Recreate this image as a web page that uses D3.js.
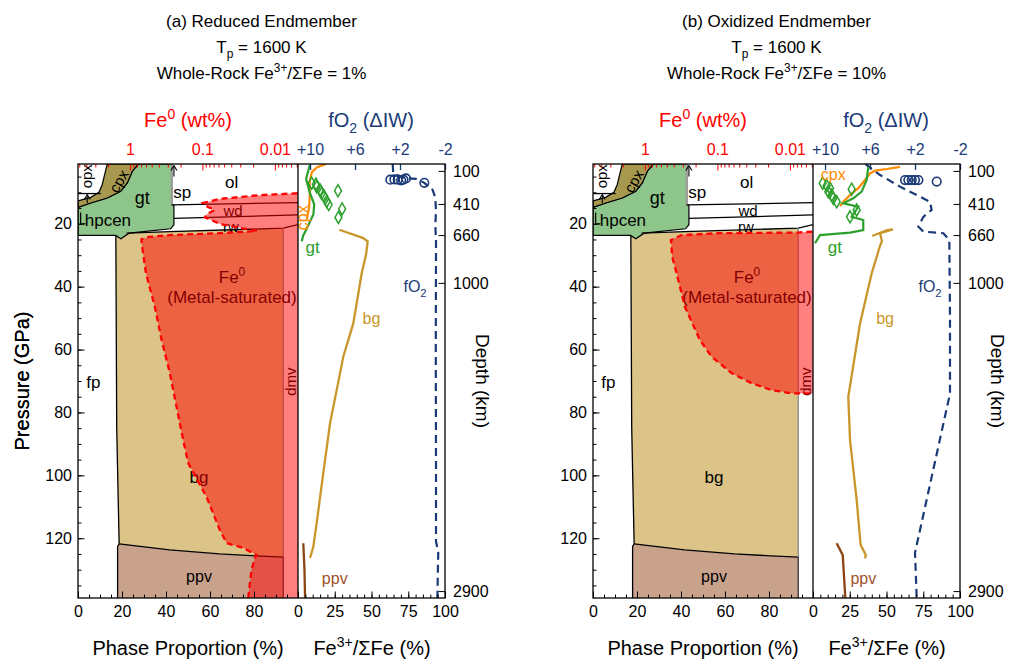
<!DOCTYPE html>
<html><head><meta charset="utf-8">
<script src="https://cdn.jsdelivr.net/npm/d3@7"></script>
<style>body{margin:0;background:#fff}</style>
</head><body>
<script>
// ---------------- DATA ----------------
const panelNames = ["(a) Reduced Endmember", "(b) Oxidized Endmember"];
const wholeRockFe3 = [1, 10];
const potentialTemp = 1600;

const pressureTicks = [20, 40, 60, 80, 100, 120];
const phaseTicks = [0, 20, 40, 60, 80];
const fe3Ticks = [0, 25, 50, 75, 100];
const fe0Ticks = [1, 0.1, 0.01];
const fo2Ticks = [10, 6, 2, -2];
const depthTicks = [100, 410, 660, 1000, 2900];
const depthPressure = [3.2, 13.7, 23.6, 38.8, 136.8];

const pressureDomain = [1, 139];
const fe0Domain = [5.2, 0.0048];
const fo2Domain = [11.07, -2];

// phase boundaries: [cumulative phase %, pressure GPa]
const opxLine = [[0, 10.4], [10.3, 10.4]];
const opxCpxBoundary = [[13.3, 1], [12.1, 4.4], [11, 7.6], [9.5, 10], [5.8, 11.6], [0, 12.7]];
const cpxGtBoundary = [[0, 14.8], [5.8, 13.4], [13.3, 11.8], [19.4, 9.7], [22.4, 7.0], [24.7, 3.3], [27, 1.4], [27.5, 1]];
const gtOuterBoundary = [[27.5, 1], [42.6, 1], [42.6, 13.9], [43.6, 14.2], [43.6, 20.3], [42.1, 21.6], [23.2, 23.0], [19.5, 24.8], [17.1, 23.7], [0, 23.7], [0, 14.8]];
const spLine = [[42.6, 1], [42.6, 13.9]];
const olWdBoundary = [[42.6, 14.0], [100, 13.3]];
const wdRwBoundary = [[43.6, 18.3], [100, 17.2]];
const rwBgBoundary = [[22.1, 23.0], [41.8, 22.5], [93.3, 21.4], [100, 20.3]];
const fpBoundary = [[17.2, 23.7], [17.6, 85], [18.7, 121.8], [18, 122.6], [18, 139]];
const bgPpvBoundary = [[18.7, 121.8], [41.6, 123.7], [64.3, 125], [80.9, 125.6], [93.3, 126]];
const dmvBoundaryBg = [[93.3, 21.4], [93.3, 126]];
const dmvBoundaryPpv = [[93.3, 126], [93.3, 139]];

// Fe0 (wt%) profiles vs pressure
const fe0ProfileA = [[0.0049, 10.3], [0.0161, 10.9], [0.0574, 12.1], [0.0984, 13.4], [0.084, 14.7], [0.0672, 15.6], [0.0867, 16.9], [0.0924, 17.9], [0.0574, 20.1], [0.0304, 21.3], [0.0177, 22.3], [0.0574, 23.0], [0.281, 23.6], [0.55, 24.2], [0.69, 24.9], [0.69, 26.1], [0.601, 35.7], [0.452, 46.5], [0.365, 57.0], [0.281, 67.5], [0.227, 78.3], [0.184, 88.8], [0.157, 96.1], [0.0875, 106.9], [0.0574, 117.4], [0.0464, 121.5], [0.0274, 123.1], [0.0179, 125.3], [0.0189, 126.3], [0.021, 130.1], [0.0221, 134.2], [0.0233, 139]];
const fe0ProfileB = [[0.0049, 22.5], [0.00776, 22.8], [0.0984, 23.0], [0.312, 23.6], [0.438, 25.2], [0.420, 30.5], [0.365, 35.8], [0.281, 46.4], [0.174, 57.0], [0.120, 62.3], [0.0637, 67.5], [0.0337, 70.7], [0.0179, 72.9], [0.00948, 73.9], [0.0049, 74.0]];

// Fe3+/SumFe (%) vs pressure
const bgFe3A = [[28.1, 21.9], [44, 24.5], [47.4, 25.6], [46.3, 29.8], [43.3, 35.8], [37.6, 51.7], [30.8, 62.3], [26.3, 72.9], [21.8, 83.4], [17.2, 99.3], [12.7, 115.2], [10.4, 122.7], [8.2, 126.3]];
const ppvFe3A = [[3.6, 121.6], [4.4, 130], [4.8, 139]];
const gtFe3A = [[8, 1.3], [5.5, 5.8], [8, 10], [11, 13.8], [10.5, 17], [6.5, 21], [3.5, 23.8], [2.5, 25.6]];
const cpxFe3A = [[19, 1], [13, 2], [9.5, 3.5], [8, 6.5], [8, 11], [7.5, 15], [6, 18.5]];
const gtGrainsA = [[9.3, 7.1], [12.2, 7.4], [12.7, 8.2], [15, 9.2], [16.1, 10.4], [17.9, 11.3], [19.5, 12.9], [20.9, 13.9], [27.2, 9.5], [30, 15.3], [27.5, 18.0]];
const fo2A = [[2.65, 1], [2.6, 4.0], [1.6, 5.5], [0.58, 5.7], [-0.16, 7.0], [-0.9, 9.2], [-1.14, 11.8], [-1.2, 16.0], [-1.14, 20.3], [-1.2, 25.5], [-1.18, 60], [-1.2, 100], [-1.2, 121], [-1.4, 124.5], [-1.32, 139]];
const fo2PointsA = [[2.86, 6.0], [2.5, 5.9], [2.2, 6.0], [1.9, 6.2], [1.7, 6.0], [1.47, 5.6], [-0.16, 7.0]];

const bgFe3B = [[40.3, 23.9], [50.3, 22.0], [54.4, 21.8], [45.6, 23.0], [46.9, 25.5], [45.6, 27], [39.9, 35.8], [32, 51.7], [24, 75], [25.2, 88.8], [29.7, 107.8], [32.4, 122.1], [35.9, 125.3], [35.4, 126.4]];
const ppvFe3B = [[16.1, 121.6], [20.2, 125.3], [22, 139]];
const gtFe3B = [[37.6, 1.9], [36.5, 6.1], [33.1, 9.8], [27.4, 11.9], [20.6, 13.5], [30.8, 14.6], [26.3, 17.8], [34.2, 18.8], [34.2, 22], [25.2, 22.8], [4.8, 23.6], [1.4, 26.2]];
const cpxFe3B = [[59.2, 1.9], [50.1, 2.6], [42.2, 3.1], [38.8, 4.0], [35.4, 6.1], [30.8, 8.7], [25.2, 10.9], [20.6, 13.0], [18.4, 14.4]];
const gtGrainsB = [[6.6, 7.1], [9.3, 7.9], [11.6, 8.7], [10.4, 9.8], [12.7, 10.9], [13.8, 11.9], [16.1, 13], [26.3, 9.0], [29.7, 15.6], [25.2, 17.8]];
const fo2B = [[6.4, 1], [5.11, 4.5], [3.33, 8.2], [1.56, 11.4], [0.67, 13], [0.52, 15.6], [1.26, 17.8], [1.71, 20.9], [1.26, 22.5], [-0.52, 23], [-1.05, 25.2], [-1.11, 50], [-1.11, 74], [2.0, 124.6], [1.85, 139]];
const fo2PointsB = [[2.89, 6.1], [2.59, 6.1], [2.29, 6.1], [2.0, 6.1], [1.7, 6.1], [0.07, 6.6]];

// ---------------- STYLE / LAYOUT ----------------
const FONT = '"Liberation Sans", Arial, Helvetica, sans-serif';
const C = {
  cpx: "#a6984e", gt: "#8ec58a", bg: "#dcc488", ppv: "#c9a28c",
  red: "#ff0000", blue: "#1a3a78", gtLine: "#2ca02c", cpxLine: "#ff8c00",
  bgLine: "#c9962a", ppvLine: "#8b4513", ppvText: "#a0522d"
};
const TOP = 164, BOT = 598, PH_W = 220, FE_W = 147;
const TICK_FS = 16;

const svg = d3.select("body").append("svg").attr("width", 1010).attr("height", 660)
  .style("font-family", FONT);
svg.append("rect").attr("width", 1010).attr("height", 660).attr("fill", "#fff");
const defs = svg.append("defs");

const y = d3.scaleLinear().domain(pressureDomain).range([TOP, BOT]);

function rich(g, x, yy, parts, o = {}) {
  const fs = o.size || 15;
  const t = g.append("text").attr("x", x).attr("y", yy).attr("font-size", fs)
    .attr("text-anchor", o.anchor || "middle").attr("fill", o.color || "#000");
  if (o.rotate != null) t.attr("transform", `rotate(${o.rotate},${x},${yy})`);
  let shift = 0;
  parts.forEach(p => {
    const [str, kind] = Array.isArray(p) ? p : [p, null];
    const target = kind === "sup" ? -0.4 * fs : kind === "sub" ? 0.3 * fs : 0;
    const ts = t.append("tspan").text(str).attr("dy", target - shift);
    if (kind) ts.attr("font-size", fs * 0.7);
    shift = target;
  });
  return t;
}

const panels = [
  { key: "a", x0: 78, name: panelNames[0], wr: wholeRockFe3[0], fe0: fe0ProfileA,
    bg: bgFe3A, ppv: ppvFe3A, gt: gtFe3A, cpx: cpxFe3A, grains: gtGrainsA, fo2: fo2A, pts: fo2PointsA,
    cpxLab: { x: 6.7, p: 16.3, rot: -90 }, gtLab: { x: 10, p: 27.5 }, bgLab: { x: 50, p: 50 }, ppvLab: { x: 25, p: 132.7 } },
  { key: "b", x0: 593, name: panelNames[1], wr: wholeRockFe3[1], fe0: fe0ProfileB,
    bg: bgFe3B, ppv: ppvFe3B, gt: gtFe3B, cpx: cpxFe3B, grains: gtGrainsB, fo2: fo2B, pts: fo2PointsB,
    cpxLab: { x: 13.8, p: 4.2, rot: 0 }, gtLab: { x: 14.9, p: 27.5 }, bgLab: { x: 49, p: 50 }, ppvLab: { x: 34.2, p: 132.7 } }
];

panels.forEach(p => {
  const x0 = p.x0;
  const xPh = d3.scaleLinear().domain([0, 100]).range([x0, x0 + PH_W]);
  const xFe3 = d3.scaleLinear().domain([0, 100]).range([x0 + PH_W, x0 + PH_W + FE_W]);
  const xFe0 = d3.scaleLog().domain(fe0Domain).range([x0, x0 + PH_W]);
  const xO2 = d3.scaleLinear().domain(fo2Domain).range([x0 + PH_W, x0 + PH_W + FE_W]);
  const g = svg.append("g");

  defs.append("clipPath").attr("id", "cph" + p.key).append("rect")
    .attr("x", x0).attr("y", TOP).attr("width", PH_W).attr("height", BOT - TOP);
  defs.append("clipPath").attr("id", "cfe" + p.key).append("rect")
    .attr("x", x0 + PH_W).attr("y", TOP).attr("width", FE_W).attr("height", BOT - TOP);

  // ---- phase proportion panel ----
  const ph = g.append("g").attr("clip-path", `url(#cph${p.key})`);
  const ln = d3.line().x(d => xPh(d[0])).y(d => y(d[1]));
  const poly = d => ln(d) + "Z";
  const bgField = [[17.2, 23.7], [19.5, 24.8]].concat(rwBgBoundary.slice(0, 3), [[93.3, 126]],
    bgPpvBoundary.slice().reverse(), [[17.6, 85]]);
  const ppvField = bgPpvBoundary.concat([[93.3, 139], [18, 139], [18, 122.6]]);
  const cpxField = opxCpxBoundary.concat(cpxGtBoundary);
  const gtField = gtOuterBoundary.concat(cpxGtBoundary.slice(1));

  ph.append("path").attr("d", poly(bgField)).attr("fill", C.bg);
  ph.append("path").attr("d", poly(ppvField)).attr("fill", C.ppv);
  ph.append("path").attr("d", poly(gtField)).attr("fill", C.gt).attr("stroke", "#000").attr("stroke-width", 1.2);
  ph.append("path").attr("d", poly(cpxField)).attr("fill", C.cpx).attr("stroke", "#000").attr("stroke-width", 1.2);
  const blk = (d, col = "#000", w = 1.3) => ph.append("path").attr("d", ln(d)).attr("fill", "none")
    .attr("stroke", col).attr("stroke-width", w);
  blk(opxLine); blk(olWdBoundary); blk(wdRwBoundary); blk(rwBgBoundary); blk(fpBoundary);
  blk(bgPpvBoundary); blk(spLine, "#9a9a9a", 2);
  blk(dmvBoundaryBg, "#8a8a8a", 1.3); blk(dmvBoundaryPpv, "#333", 1.3);

  // arrows
  const arrow = (xv, p1, p2) => {
    const ax = xPh(xv), ya = y(p1), yb = y(p2);
    ph.append("line").attr("x1", ax).attr("x2", ax).attr("y1", ya).attr("y2", yb + 1)
      .attr("stroke", "#000").attr("stroke-width", 1.1);
    ph.append("path").attr("d", `M${ax - 3},${yb + 5}L${ax},${yb}L${ax + 3},${yb + 5}`)
      .attr("fill", "none").attr("stroke", "#000").attr("stroke-width", 1.1);
  };
  arrow(4.2, 13.4, 10.7);
  arrow(43.6, 5.0, 1.5);
  // hpcen marker
  ph.append("path").attr("d", ln([[1.2, 16.4], [1.2, 20.0], [3.4, 20.0]])).attr("fill", "none")
    .attr("stroke", "#000").attr("stroke-width", 1.2);

  // phase labels (black, beneath the Fe0 overlay)
  const lab = (t, xv, pv, fs = 15, rot = null) => {
    const X = xPh(xv), Y = y(pv) + 0.35 * fs;
    const el = ph.append("text").attr("x", X).attr("y", Y).attr("font-size", fs)
      .attr("text-anchor", "middle").attr("fill", "#000").text(t);
    if (rot != null) el.attr("transform", `rotate(${rot},${X},${y(pv)})`);
  };
  lab("opx", 4.2, 4.9, 15, -90);
  lab("cpx", 18.6, 6.5, 15, -60);
  lab("gt", 29.2, 11.8, 18);
  lab("hpcen", 13.6, 18.7, 17);
  lab("sp", 47.4, 9.8, 17);
  lab("ol", 69.8, 6.6, 17);
  lab("wd", 70.5, 16.0, 15);
  lab("rw", 69.5, 21.0, 15);
  lab("fp", 7, 70.2, 17);
  lab("bg", 55, 100.4, 17);
  lab("ppv", 55, 132.2, 16);
  lab("dmv", 96.6, 70.2, 15, -90);
  rich(ph, xPh(70), y(36.8) + 6, ["Fe", ["0", "sup"]], { size: 17 });
  rich(ph, xPh(70), y(43.2) + 6, ["(Metal-saturated)"], { size: 17 });

  // Fe0 overlay
  const fePts = p.fe0.map(d => [xFe0(d[0]), y(d[1])]);
  const xr = xFe0.range()[1];
  const areaPts = fePts.concat([[xr, fePts[fePts.length - 1][1]], [xr, fePts[0][1]]]);
  ph.append("path").attr("d", d3.line()(areaPts) + "Z").attr("fill", C.red).attr("fill-opacity", 0.5);
  ph.append("path").attr("d", d3.line()(fePts)).attr("fill", "none").attr("stroke", C.red)
    .attr("stroke-width", 2.3).attr("stroke-dasharray", "6,4");

  // ---- Fe3+ panel ----
  const fe = g.append("g").attr("clip-path", `url(#cfe${p.key})`);
  const l3 = d3.line().x(d => xFe3(d[0])).y(d => y(d[1]));
  const lo = d3.line().x(d => xO2(d[0])).y(d => y(d[1]));
  fe.append("path").attr("d", lo(p.fo2)).attr("fill", "none").attr("stroke", C.blue)
    .attr("stroke-width", 2.2).attr("stroke-dasharray", "8,5");
  fe.selectAll("circle.o2").data(p.pts).join("circle").attr("class", "o2")
    .attr("cx", d => xO2(d[0])).attr("cy", d => y(d[1])).attr("r", 4.3)
    .attr("fill", "none").attr("stroke", C.blue).attr("stroke-width", 1.6);
  fe.append("path").attr("d", l3(p.cpx)).attr("fill", "none").attr("stroke", C.cpxLine).attr("stroke-width", 2.2);
  fe.append("path").attr("d", l3(p.gt)).attr("fill", "none").attr("stroke", C.gtLine).attr("stroke-width", 2.2);
  fe.selectAll("path.gr").data(p.grains).join("path").attr("class", "gr")
    .attr("d", d3.symbol(d3.symbolDiamond, 42))
    .attr("transform", d => `translate(${xFe3(d[0])},${y(d[1])})`)
    .attr("fill", "none").attr("stroke", C.gtLine).attr("stroke-width", 1.5);
  fe.append("path").attr("d", l3(p.bg)).attr("fill", "none").attr("stroke", C.bgLine).attr("stroke-width", 2.3);
  fe.append("path").attr("d", l3(p.ppv)).attr("fill", "none").attr("stroke", C.ppvLine).attr("stroke-width", 2.3);

  const flab = (parts, xv, pv, col, fs = 16, rot = null) =>
    rich(fe, xFe3(xv), y(pv) + 0.35 * fs, parts, { size: fs, color: col, rotate: rot });
  flab(["cpx"], p.cpxLab.x, p.cpxLab.p, C.cpxLine, 16, p.cpxLab.rot || null);
  flab(["gt"], p.gtLab.x, p.gtLab.p, C.gtLine, 17);
  flab(["bg"], p.bgLab.x, p.bgLab.p, C.bgLine, 16);
  flab(["ppv"], p.ppvLab.x, p.ppvLab.p, C.ppvText, 16);
  flab(["fO", ["2", "sub"]], 79.6, 40, C.blue, 16);

  // ---- axes ----
  const ax = g.append("g").attr("font-family", FONT);
  const clean = s => { s.select(".domain").remove(); s.selectAll("text").attr("font-family", FONT).attr("font-size", TICK_FS); };
  ax.append("g").attr("transform", `translate(${x0},0)`)
    .call(d3.axisLeft(y).tickValues(d3.range(5, 139, 5)).tickSize(-3.5).tickFormat("")).call(clean);
  ax.append("g").attr("transform", `translate(${x0},0)`)
    .call(d3.axisLeft(y).tickValues(pressureTicks).tickSize(-6.5).tickPadding(6)).call(clean);
  ax.append("g").attr("transform", `translate(0,${BOT})`)
    .call(d3.axisBottom(xPh).tickValues(d3.range(0, 101, 5)).tickSize(-3.5).tickFormat("")).call(clean);
  ax.append("g").attr("transform", `translate(0,${BOT})`)
    .call(d3.axisBottom(xPh).tickValues(phaseTicks).tickSize(-6.5).tickPadding(8)).call(clean);
  ax.append("g").attr("transform", `translate(0,${BOT})`)
    .call(d3.axisBottom(xFe3).tickValues(d3.range(0, 101, 5)).tickSize(-3.5).tickFormat("")).call(clean);
  ax.append("g").attr("transform", `translate(0,${BOT})`)
    .call(d3.axisBottom(xFe3).tickValues(fe3Ticks).tickSize(-6.5).tickPadding(8)).call(clean);
  const minorFe0 = [];
  [0.001, 0.01, 0.1, 1].forEach(dec => d3.range(2, 10).forEach(k => {
    const v = k * dec; if (v < fe0Domain[0] && v > fe0Domain[1]) minorFe0.push(v);
  }));
  const fe0Minor = ax.append("g").attr("transform", `translate(0,${TOP})`)
    .call(d3.axisTop(xFe0).tickValues(minorFe0).tickSize(-3.5).tickFormat("")).call(clean);
  fe0Minor.selectAll("line").attr("stroke", C.red);
  const fe0Ax = ax.append("g").attr("transform", `translate(0,${TOP})`)
    .call(d3.axisTop(xFe0).tickValues(fe0Ticks).tickSize(-6.5).tickPadding(9).tickFormat(d => String(d))).call(clean);
  fe0Ax.selectAll("line").attr("stroke", C.red);
  fe0Ax.selectAll("text").attr("fill", C.red);
  const o2Ax = ax.append("g").attr("transform", `translate(0,${TOP})`)
    .call(d3.axisTop(xO2).tickValues(fo2Ticks).tickSize(-6).tickPadding(9)
      .tickFormat(d => d > 0 ? "+" + d : String(d))).call(clean);
  o2Ax.selectAll("line").attr("stroke", C.blue).attr("stroke-width", 1.3);
  o2Ax.selectAll("text").attr("fill", C.blue);
  ax.append("g").attr("transform", `translate(${x0 + PH_W + FE_W},0)`)
    .call(d3.axisRight(y).tickValues(depthPressure).tickSize(-6.5).tickPadding(8)
      .tickFormat((d, i) => depthTicks[i])).call(clean);

  // frame
  g.append("rect").attr("x", x0).attr("y", TOP).attr("width", PH_W + FE_W).attr("height", BOT - TOP)
    .attr("fill", "none").attr("stroke", "#000").attr("stroke-width", 1.3);
  g.append("line").attr("x1", x0 + PH_W).attr("x2", x0 + PH_W).attr("y1", TOP).attr("y2", BOT)
    .attr("stroke", "#000").attr("stroke-width", 1.3);

  // titles & axis labels
  const cx = x0 + (PH_W + FE_W) / 2;
  rich(g, cx, 27, [p.name], { size: 17 });
  rich(g, cx, 53, ["T", ["p", "sub"], ` = ${potentialTemp} K`], { size: 17 });
  rich(g, cx, 79, ["Whole-Rock Fe", ["3+", "sup"], `/ΣFe = ${p.wr}%`], { size: 17 });
  rich(g, x0 + 110, 127, ["Fe", ["0", "sup"], " (wt%)"], { size: 20, color: C.red });
  rich(g, x0 + 293, 127, ["fO", ["2", "sub"], " (ΔIW)"], { size: 20, color: C.blue });
  rich(g, x0 + 110, 655, ["Phase Proportion (%)"], { size: 20 });
  rich(g, x0 + 294, 655, ["Fe", ["3+", "sup"], "/ΣFe (%)"], { size: 20 });
  rich(g, 29, (TOP + BOT) / 2, ["Pressure (GPa)"], { size: 20, rotate: -90 });
  rich(g, x0 + 398, (TOP + BOT) / 2, ["Depth (km)"], { size: 19, rotate: 90 });
});
</script>
</body></html>
